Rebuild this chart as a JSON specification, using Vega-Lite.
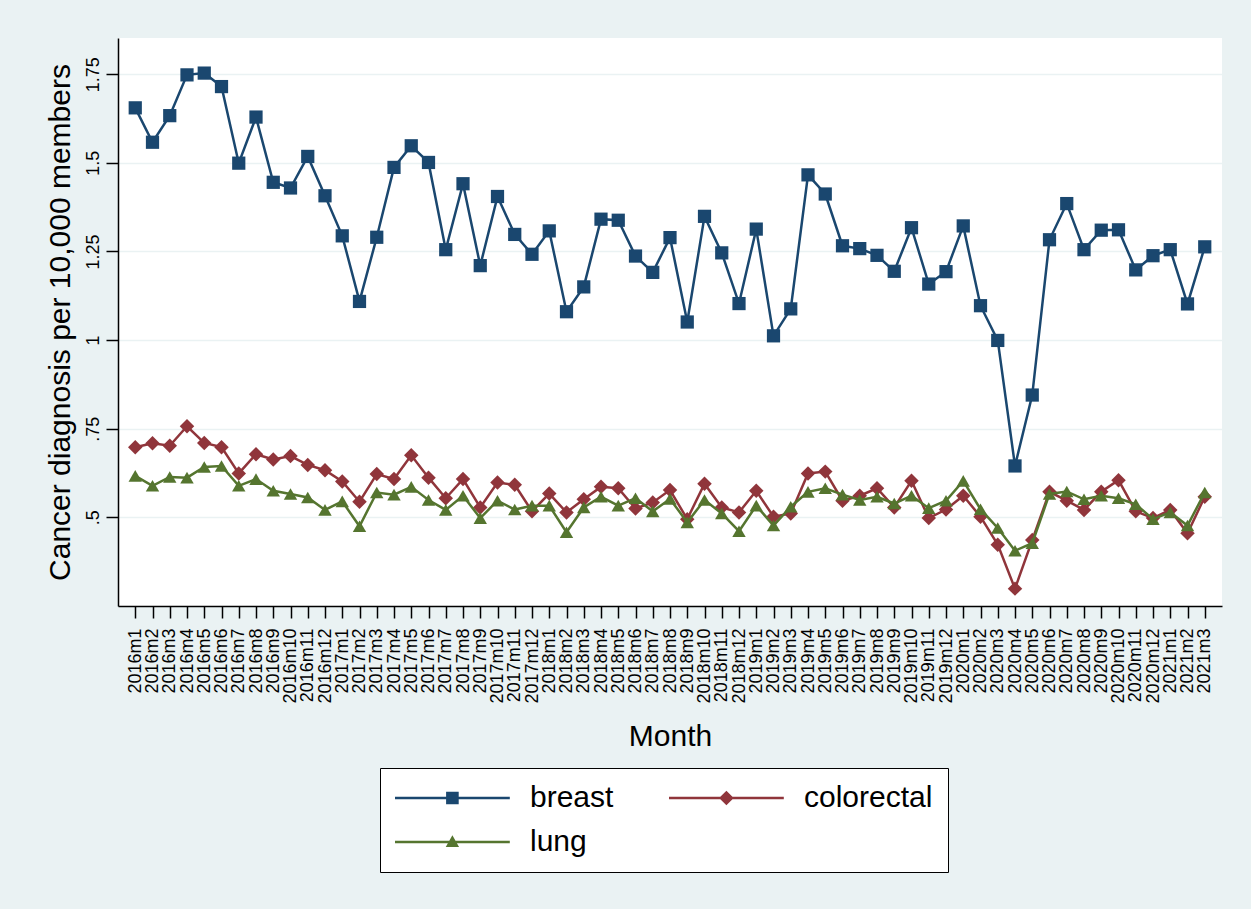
{
  "$schema": "https://vega.github.io/schema/vega-lite/v6.json",
  "width": 1104,
  "height": 568,
  "autosize": {"type": "none"},
  "padding": {"left": 118, "top": 38, "right": 29, "bottom": 303},
  "background": "#eaf2f3",
  "config": {
    "font": "Liberation Sans",
    "view": {"fill": "white", "stroke": null}
  },
  "data": {
    "values": [
      {"month": "2016m1", "breast": 1.655, "colorectal": 0.698, "lung": 0.617},
      {"month": "2016m2", "breast": 1.558, "colorectal": 0.709, "lung": 0.589},
      {"month": "2016m3", "breast": 1.633, "colorectal": 0.702, "lung": 0.614},
      {"month": "2016m4", "breast": 1.748, "colorectal": 0.757, "lung": 0.612},
      {"month": "2016m5", "breast": 1.753, "colorectal": 0.710, "lung": 0.642},
      {"month": "2016m6", "breast": 1.715, "colorectal": 0.698, "lung": 0.645},
      {"month": "2016m7", "breast": 1.499, "colorectal": 0.624, "lung": 0.589},
      {"month": "2016m8", "breast": 1.629, "colorectal": 0.678, "lung": 0.608},
      {"month": "2016m9", "breast": 1.445, "colorectal": 0.663, "lung": 0.575},
      {"month": "2016m10", "breast": 1.429, "colorectal": 0.673, "lung": 0.566},
      {"month": "2016m11", "breast": 1.518, "colorectal": 0.648, "lung": 0.556},
      {"month": "2016m12", "breast": 1.407, "colorectal": 0.633, "lung": 0.521},
      {"month": "2017m1", "breast": 1.294, "colorectal": 0.601, "lung": 0.545},
      {"month": "2017m2", "breast": 1.109, "colorectal": 0.544, "lung": 0.475},
      {"month": "2017m3", "breast": 1.290, "colorectal": 0.622, "lung": 0.570},
      {"month": "2017m4", "breast": 1.487, "colorectal": 0.608, "lung": 0.564},
      {"month": "2017m5", "breast": 1.548, "colorectal": 0.675, "lung": 0.586},
      {"month": "2017m6", "breast": 1.501, "colorectal": 0.612, "lung": 0.549},
      {"month": "2017m7", "breast": 1.255, "colorectal": 0.554, "lung": 0.521},
      {"month": "2017m8", "breast": 1.441, "colorectal": 0.608, "lung": 0.561},
      {"month": "2017m9", "breast": 1.210, "colorectal": 0.528, "lung": 0.498},
      {"month": "2017m10", "breast": 1.405, "colorectal": 0.598, "lung": 0.547},
      {"month": "2017m11", "breast": 1.298, "colorectal": 0.592, "lung": 0.522},
      {"month": "2017m12", "breast": 1.242, "colorectal": 0.517, "lung": 0.533},
      {"month": "2018m1", "breast": 1.308, "colorectal": 0.567, "lung": 0.533},
      {"month": "2018m2", "breast": 1.080, "colorectal": 0.514, "lung": 0.458},
      {"month": "2018m3", "breast": 1.150, "colorectal": 0.551, "lung": 0.528},
      {"month": "2018m4", "breast": 1.341, "colorectal": 0.586, "lung": 0.558},
      {"month": "2018m5", "breast": 1.338, "colorectal": 0.582, "lung": 0.533},
      {"month": "2018m6", "breast": 1.237, "colorectal": 0.525, "lung": 0.554},
      {"month": "2018m7", "breast": 1.191, "colorectal": 0.542, "lung": 0.517},
      {"month": "2018m8", "breast": 1.289, "colorectal": 0.577, "lung": 0.552},
      {"month": "2018m9", "breast": 1.051, "colorectal": 0.495, "lung": 0.486},
      {"month": "2018m10", "breast": 1.349, "colorectal": 0.595, "lung": 0.549},
      {"month": "2018m11", "breast": 1.246, "colorectal": 0.528, "lung": 0.511},
      {"month": "2018m12", "breast": 1.103, "colorectal": 0.514, "lung": 0.461},
      {"month": "2019m1", "breast": 1.313, "colorectal": 0.575, "lung": 0.533},
      {"month": "2019m2", "breast": 1.012, "colorectal": 0.502, "lung": 0.477},
      {"month": "2019m3", "breast": 1.088, "colorectal": 0.511, "lung": 0.530},
      {"month": "2019m4", "breast": 1.466, "colorectal": 0.624, "lung": 0.572},
      {"month": "2019m5", "breast": 1.412, "colorectal": 0.629, "lung": 0.582},
      {"month": "2019m6", "breast": 1.266, "colorectal": 0.547, "lung": 0.564},
      {"month": "2019m7", "breast": 1.258, "colorectal": 0.561, "lung": 0.549},
      {"month": "2019m8", "breast": 1.239, "colorectal": 0.582, "lung": 0.558},
      {"month": "2019m9", "breast": 1.194, "colorectal": 0.528, "lung": 0.539},
      {"month": "2019m10", "breast": 1.317, "colorectal": 0.603, "lung": 0.561},
      {"month": "2019m11", "breast": 1.158, "colorectal": 0.498, "lung": 0.526},
      {"month": "2019m12", "breast": 1.193, "colorectal": 0.522, "lung": 0.547},
      {"month": "2020m1", "breast": 1.322, "colorectal": 0.561, "lung": 0.603},
      {"month": "2020m2", "breast": 1.097, "colorectal": 0.502, "lung": 0.523},
      {"month": "2020m3", "breast": 0.999, "colorectal": 0.423, "lung": 0.470},
      {"month": "2020m4", "breast": 0.645, "colorectal": 0.299, "lung": 0.406},
      {"month": "2020m5", "breast": 0.845, "colorectal": 0.436, "lung": 0.427},
      {"month": "2020m6", "breast": 1.283, "colorectal": 0.572, "lung": 0.566},
      {"month": "2020m7", "breast": 1.385, "colorectal": 0.547, "lung": 0.573},
      {"month": "2020m8", "breast": 1.255, "colorectal": 0.521, "lung": 0.551},
      {"month": "2020m9", "breast": 1.310, "colorectal": 0.572, "lung": 0.561},
      {"month": "2020m10", "breast": 1.311, "colorectal": 0.605, "lung": 0.554},
      {"month": "2020m11", "breast": 1.198, "colorectal": 0.517, "lung": 0.537},
      {"month": "2020m12", "breast": 1.238, "colorectal": 0.498, "lung": 0.495},
      {"month": "2021m1", "breast": 1.255, "colorectal": 0.521, "lung": 0.514},
      {"month": "2021m2", "breast": 1.102, "colorectal": 0.455, "lung": 0.477},
      {"month": "2021m3", "breast": 1.263, "colorectal": 0.558, "lung": 0.570}
    ]
  },
  "transform": [
    {"fold": ["breast", "colorectal", "lung"], "as": ["series", "rate"]}
  ],
  "encoding": {
    "x": {
      "field": "month",
      "type": "nominal",
      "sort": null,
      "scale": {"type": "point", "padding": 1.13},
      "axis": {
        "title": "Month",
        "titleFontSize": 30,
        "titleFontWeight": "normal",
        "titleColor": "black",
        "titleBaseline": "alphabetic",
        "titleY": 139,
        "labelAngle": -90,
        "labelAlign": "right",
        "labelBaseline": "middle",
        "labelFontSize": 18,
        "labelColor": "black",
        "labelPadding": 10,
        "labelOverlap": false,
        "tickColor": "black",
        "tickSize": 12,
        "tickWidth": 1.5,
        "domainColor": "black",
        "domainWidth": 1.5,
        "grid": false
      }
    },
    "y": {
      "field": "rate",
      "type": "quantitative",
      "scale": {"domain": [0.25, 1.852], "nice": false, "zero": false},
      "axis": {
        "title": "Cancer diagnosis per 10,000 members",
        "titleFontSize": 30,
        "titleFontWeight": "normal",
        "titleColor": "black",
        "titleAngle": -90,
        "titleBaseline": "middle",
        "titleX": -58,
        "values": [0.5, 0.75, 1, 1.25, 1.5, 1.75],
        "labelExpr": "datum.value < 1 ? slice(format(datum.value, '~g'), 1) : format(datum.value, '~g')",
        "labelAngle": -90,
        "labelAlign": "center",
        "labelBaseline": "bottom",
        "labelFontSize": 18,
        "labelColor": "black",
        "labelPadding": 4,
        "tickColor": "black",
        "tickSize": 12,
        "tickWidth": 1.5,
        "domainColor": "black",
        "domainWidth": 1.5,
        "grid": true,
        "gridColor": "#eaf2f3",
        "gridWidth": 1.5
      }
    }
  },
  "layer": [
    {
      "transform": [{"filter": "datum.series === 'breast'"}],
      "layer": [
        {
          "mark": {"type": "line", "strokeWidth": 2.5, "color": "#1a476f"},
          "encoding": {"order": {"value": null}}
        },
        {
          "mark": {"type": "point", "shape": "square", "filled": true, "size": 175, "opacity": 1},
          "encoding": {
            "color": {
              "field": "series",
              "type": "nominal",
              "scale": {
                "domain": ["breast", "colorectal", "lung"],
                "range": ["#1a476f", "#90353b", "#55752f"]
              },
              "legend": {
                "title": null,
                "orient": "none",
                "legendX": 262,
                "legendY": 730,
                "columns": 2,
                "direction": "horizontal",
                "padding": 15,
                "rowPadding": 14,
                "columnPadding": 55,
                "labelFontSize": 30,
                "labelColor": "black",
                "labelOffset": 62.6,
                "symbolSize": 196,
                "symbolStrokeWidth": 0,
                "symbolOffset": 42.4,
                "symbolType": {"expr": "datum.value === 'breast' ? 'M-8.2,-0.18H8.2V0.18H-8.2Z M-0.9,-0.9H0.9V0.9H-0.9Z' : datum.value === 'colorectal' ? 'M-8.2,-0.18H8.2V0.18H-8.2Z M0,-1.05L1.05,0L0,1.05L-1.05,0Z' : 'M-8.2,-0.18H8.2V0.18H-8.2Z M0,-0.95L0.95,0.7H-0.95Z'"},
                "fillColor": "white",
                "strokeColor": "black"
              }
            }
          }
        }
      ]
    },
    {
      "transform": [{"filter": "datum.series === 'colorectal'"}],
      "layer": [
        {
          "mark": {"type": "line", "strokeWidth": 2.5, "color": "#90353b"},
          "encoding": {"order": {"value": null}}
        },
        {
          "mark": {"type": "point", "shape": "diamond", "filled": true, "size": 210, "opacity": 1},
          "encoding": {
            "color": {
              "field": "series",
              "type": "nominal",
              "scale": {
                "domain": ["breast", "colorectal", "lung"],
                "range": ["#1a476f", "#90353b", "#55752f"]
              }
            }
          }
        }
      ]
    },
    {
      "transform": [{"filter": "datum.series === 'lung'"}],
      "layer": [
        {
          "mark": {"type": "line", "strokeWidth": 2.5, "color": "#55752f"},
          "encoding": {"order": {"value": null}}
        },
        {
          "mark": {"type": "point", "shape": "triangle-up", "filled": true, "size": 180, "opacity": 1},
          "encoding": {
            "color": {
              "field": "series",
              "type": "nominal",
              "scale": {
                "domain": ["breast", "colorectal", "lung"],
                "range": ["#1a476f", "#90353b", "#55752f"]
              }
            }
          }
        }
      ]
    }
  ]
}
